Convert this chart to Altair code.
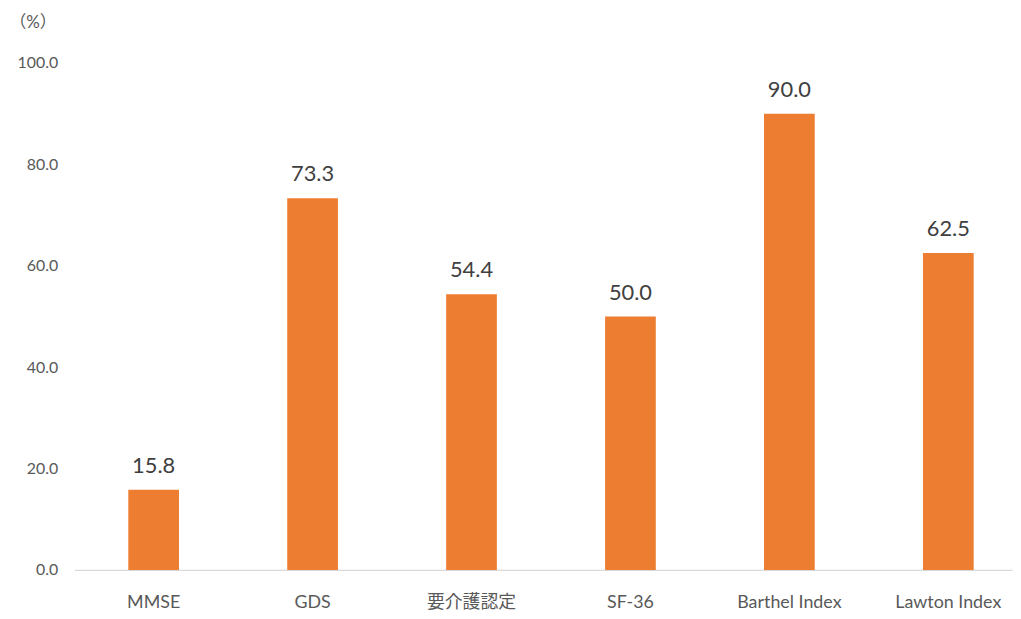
import altair as alt
import pandas as pd

categories = ["MMSE", "GDS", "要介護認定", "SF-36", "Barthel Index", "Lawton Index"]
values = [15.8, 73.3, 54.4, 50.0, 90.0, 62.5]
y_ticks = [0, 20, 40, 60, 80, 100]

df = pd.DataFrame({"cat": categories, "val": values})

FONT = "Lato, 'Noto Sans CJK JP', sans-serif"

x = alt.X("cat:N", sort=categories, title=None,
          scale=alt.Scale(paddingInner=0.681, paddingOuter=0.29, align=0.584),
          axis=alt.Axis(labelAngle=0, labelFontSize=18, labelColor="#595959", labelFont=FONT,
                        labelPadding=24, ticks=False, domainColor="#d9d9d9", domainWidth=1.2))
y = alt.Y("val:Q", title="（%）",
          scale=alt.Scale(domain=[0, 100], nice=False),
          axis=alt.Axis(values=y_ticks, format=".1f", grid=False, domain=False, ticks=False,
                        labelFontSize=16, labelColor="#595959", labelFont=FONT, labelPadding=17,
                        titleAngle=0, titleAlign="left", titleBaseline="middle",
                        titleX=-66, titleY=-41, titleFontSize=17, titleFontWeight="normal",
                        titleColor="#595959", titleFont=FONT))

bars = alt.Chart(df).mark_bar(color="#ED7D31").encode(x=x, y=y)
labels = alt.Chart(df).mark_text(dy=-12, baseline="bottom", fontSize=22, color="#404040", font=FONT).encode(
    x=alt.X("cat:N", sort=categories), y="val:Q", text=alt.Text("val:Q", format=".1f"))

chart = (bars + labels).properties(
    width=945, height=511,
    autosize=alt.AutoSizeParams(type="none"),
    padding={"left": 67, "top": 53, "right": 1, "bottom": 40},
).configure_view(stroke=None)

chart.save("out.html", embed_options={"renderer": "svg", "actions": False})
